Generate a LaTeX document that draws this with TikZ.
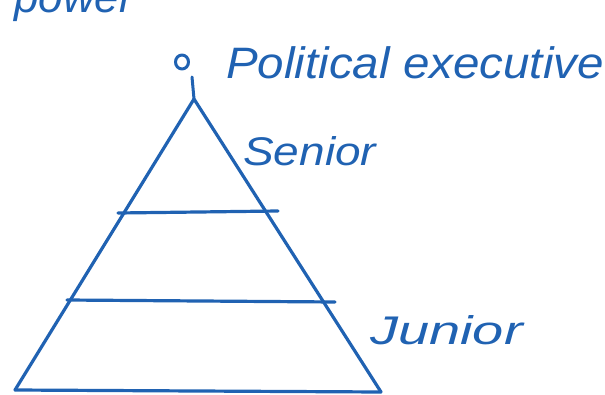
\documentclass[tikz,border=0pt]{standalone}
\usepackage{fontspec}
\setmainfont{Liberation Sans}
\definecolor{ink}{RGB}{32,98,178}
\tikzset{
  pen/.style={draw=ink, line width=3.2pt, line cap=round, line join=round},
  hand/.style={text=ink, inner sep=0pt, font=\itshape},
}
\begin{document}
\begin{tikzpicture}[x=1pt,y=-1pt]
\useasboundingbox (0,0) rectangle (605,394);
\begin{scope}
\clip (0,0) rectangle (605,394);
% cut-off text at top
\node[hand, anchor=base west, font=\itshape\fontsize{44}{44}\selectfont] (top) at (14,12) {power};
% stick figure
\draw[pen, line width=3pt] (182,62) ellipse [x radius=6.5, y radius=7];
\coordinate (neck) at (192,77);
\coordinate (apex) at (194,99);
\draw[pen, line width=3pt] (neck) -- (apex);
% pyramid
\coordinate (bl) at (15,390);
\coordinate (br) at (381,392);
\draw[pen] (bl) -- (apex) -- (br);
\draw[pen] (bl) -- (br);
\coordinate (a1) at (118,213);
\coordinate (b1) at (278,211);
\coordinate (a2) at (67,300);
\coordinate (b2) at (335,302);
\draw[pen] (a1) -- (b1);
\draw[pen] (a2) -- (b2);
% labels
\node[hand, anchor=base west, font=\itshape\fontsize{44}{44}\selectfont, xscale=1.08] (pe) at (226,78) {Political executive};
\node[hand, anchor=base west, font=\itshape\fontsize{40}{40}\selectfont, xscale=1.15] (sen) at (243,165) {Senior};
\node[hand, anchor=base west, font=\itshape\fontsize{40}{40}\selectfont, xscale=1.4] (jun) at (370,344) {Junior};
\end{scope}
\end{tikzpicture}
\end{document}
